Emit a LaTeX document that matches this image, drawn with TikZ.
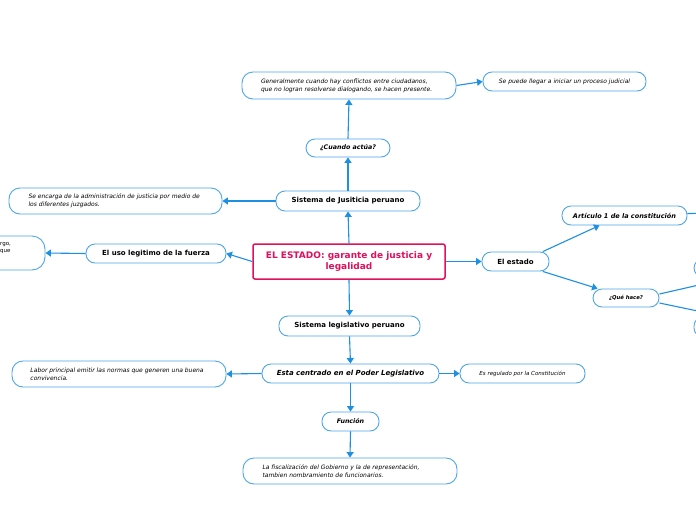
\documentclass[tikz,border=0pt]{standalone}
\usepackage{fontspec}
\setmainfont{DejaVu Sans}
\usetikzlibrary{arrows.meta}
\definecolor{edgeblue}{HTML}{1E90E2}
\definecolor{boxblue}{HTML}{4DA6E8}
\definecolor{mainpink}{HTML}{E0105C}
\begin{document}
\begin{tikzpicture}[x=1pt,y=-1pt,
  box/.style={draw=boxblue, line width=0.9pt, rounded corners=9pt, fill=white, inner sep=0pt, align=center},
  lab/.style={box, font=\fontsize{7}{8}\selectfont\bfseries},
  ilab/.style={box, font=\fontsize{7}{8}\selectfont\bfseries\itshape},
  note/.style={box, font=\fontsize{6}{8}\selectfont\itshape},
  conn/.style={draw=edgeblue, line width=1.1pt, -{Triangle[length=5.5pt,width=7pt]}},
  plain/.style={draw=edgeblue, line width=1.1pt}
]
\useasboundingbox (0,0) rectangle (696,520);
\fill[white] (0,0) rectangle (696,520);

% main
\node[draw=mainpink, line width=1.5pt, rounded corners=2pt, fill=white, minimum width=192, minimum height=35, inner sep=0pt, align=center, text=mainpink, font=\fontsize{9}{11.5}\selectfont\bfseries] (main) at (349,261.5) {EL ESTADO: garante de justicia y\\legalidad};

% upper branch
\node[lab, minimum width=144, minimum height=20] (sist) at (348,201) {Sistema de Jusiticia peruano};
\node[ilab, minimum width=84, minimum height=18, font=\fontsize{6.3}{8}\selectfont\bfseries\itshape] (cuando) at (348,148) {¿Cuando actúa?};
\node[note, minimum width=214, minimum height=27, rounded corners=11pt] (gen) at (349,85.5) {\begin{minipage}{176pt}\raggedright Generalmente cuando hay conflictos entre ciudadanos,\\que no logran resolverse dialogando, se hacen presente.\end{minipage}};
\node[note, minimum width=163, minimum height=19] (sepuede) at (564.5,81.5) {Se puede llegar a iniciar un proceso judicial};
\node[note, minimum width=213, minimum height=26, rounded corners=11pt] (senc) at (115.5,201) {\begin{minipage}{174pt}\raggedright Se encarga de la administración de justicia por medio de\\los diferentes juzgados.\end{minipage}};

% left branch
\node[lab, minimum width=140, minimum height=19] (uso) at (156,253.5) {El uso legitimo de la fuerza};
\node[box, minimum width=150, minimum height=34, rounded corners=13pt] (lc) at (-30,253) {};
\node[anchor=west, inner sep=0pt, align=left, font=\fontsize{5.5}{7}\selectfont] (lctext) at (0,248.5) {rgo,\\que};

% right branch
\node[lab, minimum width=67, minimum height=19] (estado) at (515.5,261.5) {El estado};
\node[ilab, minimum width=125, minimum height=19, font=\fontsize{6.5}{8}\selectfont\bfseries\itshape] (artic) at (624.5,215.5) {Artículo 1 de la constitución};
\node[ilab, minimum width=66, minimum height=18, font=\fontsize{5.3}{7}\selectfont\bfseries\itshape] (quehace) at (626,298) {¿Qué hace?};
\node[box, minimum width=86, minimum height=18] (r1) at (737,268) {};
\node[box, minimum width=86, minimum height=20] (r2) at (737,327) {};
\coordinate (artend) at (740,213);
\coordinate (q1) at (712,282);
\coordinate (q2) at (712,314);

% lower branch
\node[lab, minimum width=141, minimum height=20] (sleg) at (349.5,326) {Sistema legislativo peruano};
\node[ilab, minimum width=177, minimum height=19] (centr) at (350.5,373.5) {Esta centrado en el Poder Legislativo};
\node[note, minimum width=214, minimum height=26, rounded corners=11pt] (labor) at (119,374) {\begin{minipage}{177pt}\raggedright Labor principal emitir las normas que generen una buena\\convivencia.\end{minipage}};
\node[note, minimum width=125, minimum height=19, font=\fontsize{5.5}{7}\selectfont\itshape] (regul) at (522.5,373.5) {Es regulado por la Constitución};
\node[ilab, minimum width=57, minimum height=19, font=\fontsize{6.3}{8}\selectfont\bfseries\itshape] (func) at (350.5,421.5) {Función};
\node[note, minimum width=214, minimum height=26, rounded corners=11pt] (fisc) at (350,471) {\begin{minipage}{175pt}\raggedright La fiscalización del Gobierno y la de representación,\\tambien nombramiento de funcionarios.\end{minipage}};

% connectors
\draw[conn] (main.north) -- (sist.south);
\draw[conn] (sist.north) -- (cuando.south);
\draw[conn] (cuando.north) -- (gen.south);
\draw[conn] (gen.east) -- (sepuede.west);
\draw[conn] (sist.west) -- (senc.east);
\draw[conn] (main.west) -- (uso.east);
\draw[conn] (uso.west) -- (lc.east);
\draw[conn] (main.east) -- (estado.west);
\draw[conn] (estado.20) -- ([xshift=-25pt]artic.south);
\draw[conn] (estado.-20) -- ([xshift=5pt]quehace.north west);
\draw[plain] ([yshift=2pt]artic.east) -- (artend);
\draw[plain] ([yshift=4pt]quehace.east) -- (q1);
\draw[plain] ([yshift=-5pt]quehace.east) -- (q2);
\draw[conn] (main.south) -- (sleg.north);
\draw[conn] (sleg.south) -- (centr.north);
\draw[conn] (centr.west) -- (labor.east);
\draw[conn] (centr.east) -- (regul.west);
\draw[conn] (centr.south) -- (func.north);
\draw[conn] (func.south) -- (fisc.north);
\end{tikzpicture}
\end{document}
